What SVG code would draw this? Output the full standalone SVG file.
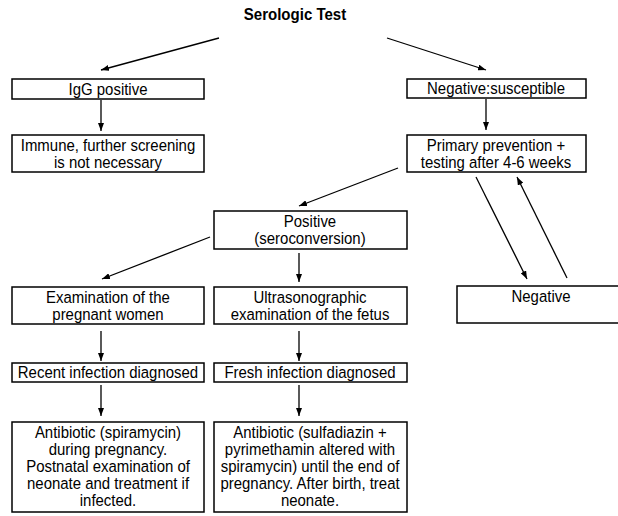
<svg xmlns="http://www.w3.org/2000/svg" width="618" height="516" viewBox="0 0 618 516">
<defs>
<style>
.box{fill:#fff;stroke:#000;stroke-width:1.5}
.t{font-family:"Liberation Sans",Arial,sans-serif;font-size:17px;fill:#000;text-anchor:middle;transform-box:fill-box;transform-origin:center;transform:scaleX(0.88)}
.title{font-family:"Liberation Sans",Arial,sans-serif;font-size:16px;font-weight:bold;fill:#000;text-anchor:middle;transform-box:fill-box;transform-origin:center;transform:scaleX(0.94)}
.c{stroke:#000;stroke-width:1.3;fill:none;marker-end:url(#ah)}
</style>
<marker id="ah" viewBox="0 0 10 10" refX="10" refY="5" markerWidth="8" markerHeight="6" markerUnits="userSpaceOnUse" orient="auto" preserveAspectRatio="none">
<path d="M0,0 L10,5 L0,10 z" fill="#000"/>
</marker>
</defs>
<rect width="618" height="516" fill="#fff"/>
<g id="title"><text class="title" x="295" y="20">Serologic Test</text></g>
<g id="connectors">
<line class="c" x1="219" y1="38" x2="101" y2="70"/>
<line class="c" x1="387" y1="38" x2="486" y2="70"/>
<line class="c" x1="101" y1="100" x2="101" y2="131"/>
<line class="c" x1="486" y1="99" x2="486" y2="130"/>
<line class="c" x1="398" y1="168" x2="299" y2="206"/>
<line class="c" x1="476" y1="177" x2="527" y2="279"/>
<line class="c" x1="567" y1="278" x2="517" y2="177"/>
<line class="c" x1="210" y1="237" x2="102" y2="279"/>
<line class="c" x1="299" y1="253" x2="299" y2="282"/>
<line class="c" x1="101" y1="331" x2="101" y2="361"/>
<line class="c" x1="299" y1="331" x2="299" y2="361"/>
<line class="c" x1="101" y1="385" x2="101" y2="416"/>
<line class="c" x1="299" y1="385" x2="299" y2="416"/>
</g>
<g id="igg"><rect class="box" x="12" y="79" width="192" height="20"/><text class="t" x="108" y="95">IgG positive</text></g>
<g id="negsus"><rect class="box" x="407" y="79" width="179" height="19"/><text class="t" x="496" y="94.5">Negative:susceptible</text></g>
<g id="immune"><rect class="box" x="12" y="135" width="192" height="37"/><text class="t" x="108" y="151">Immune, further screening</text><text class="t" x="108" y="168">is not necessary</text></g>
<g id="primary"><rect class="box" x="407" y="135" width="179" height="37"/><text class="t" x="496" y="151">Primary prevention +</text><text class="t" x="496" y="168">testing after 4-6 weeks</text></g>
<g id="positive"><rect class="box" x="214" y="211" width="193" height="38"/><text class="t" x="310" y="227">Positive</text><text class="t" x="310" y="244">(seroconversion)</text></g>
<g id="exam"><rect class="box" x="12" y="287" width="192" height="37"/><text class="t" x="108" y="303">Examination of the</text><text class="t" x="108" y="320">pregnant women</text></g>
<g id="ultra"><rect class="box" x="214" y="287" width="193" height="37"/><text class="t" x="310" y="303">Ultrasonographic</text><text class="t" x="310" y="320">examination of the fetus</text></g>
<g id="negative"><rect class="box" x="457" y="286" width="170" height="37"/><text class="t" x="541" y="302">Negative</text></g>
<g id="recent"><rect class="box" x="12" y="363" width="192" height="19"/><text class="t" x="108" y="378.5">Recent infection diagnosed</text></g>
<g id="fresh"><rect class="box" x="214" y="363" width="193" height="19"/><text class="t" x="310" y="378.5">Fresh infection diagnosed</text></g>
<g id="abx1"><rect class="box" x="12" y="422" width="192" height="90"/>
<text class="t" x="108" y="438">Antibiotic (spiramycin)</text>
<text class="t" x="108" y="455">during pregnancy.</text>
<text class="t" x="108" y="472">Postnatal examination of</text>
<text class="t" x="108" y="489">neonate and treatment if</text>
<text class="t" x="108" y="506">infected.</text></g>
<g id="abx2"><rect class="box" x="214" y="422" width="193" height="90"/>
<text class="t" x="310" y="438">Antibiotic (sulfadiazin +</text>
<text class="t" x="310" y="455">pyrimethamin altered with</text>
<text class="t" x="310" y="472">spiramycin) until the end of</text>
<text class="t" x="310" y="489">pregnancy. After birth, treat</text>
<text class="t" x="310" y="506">neonate.</text></g>
</svg>
